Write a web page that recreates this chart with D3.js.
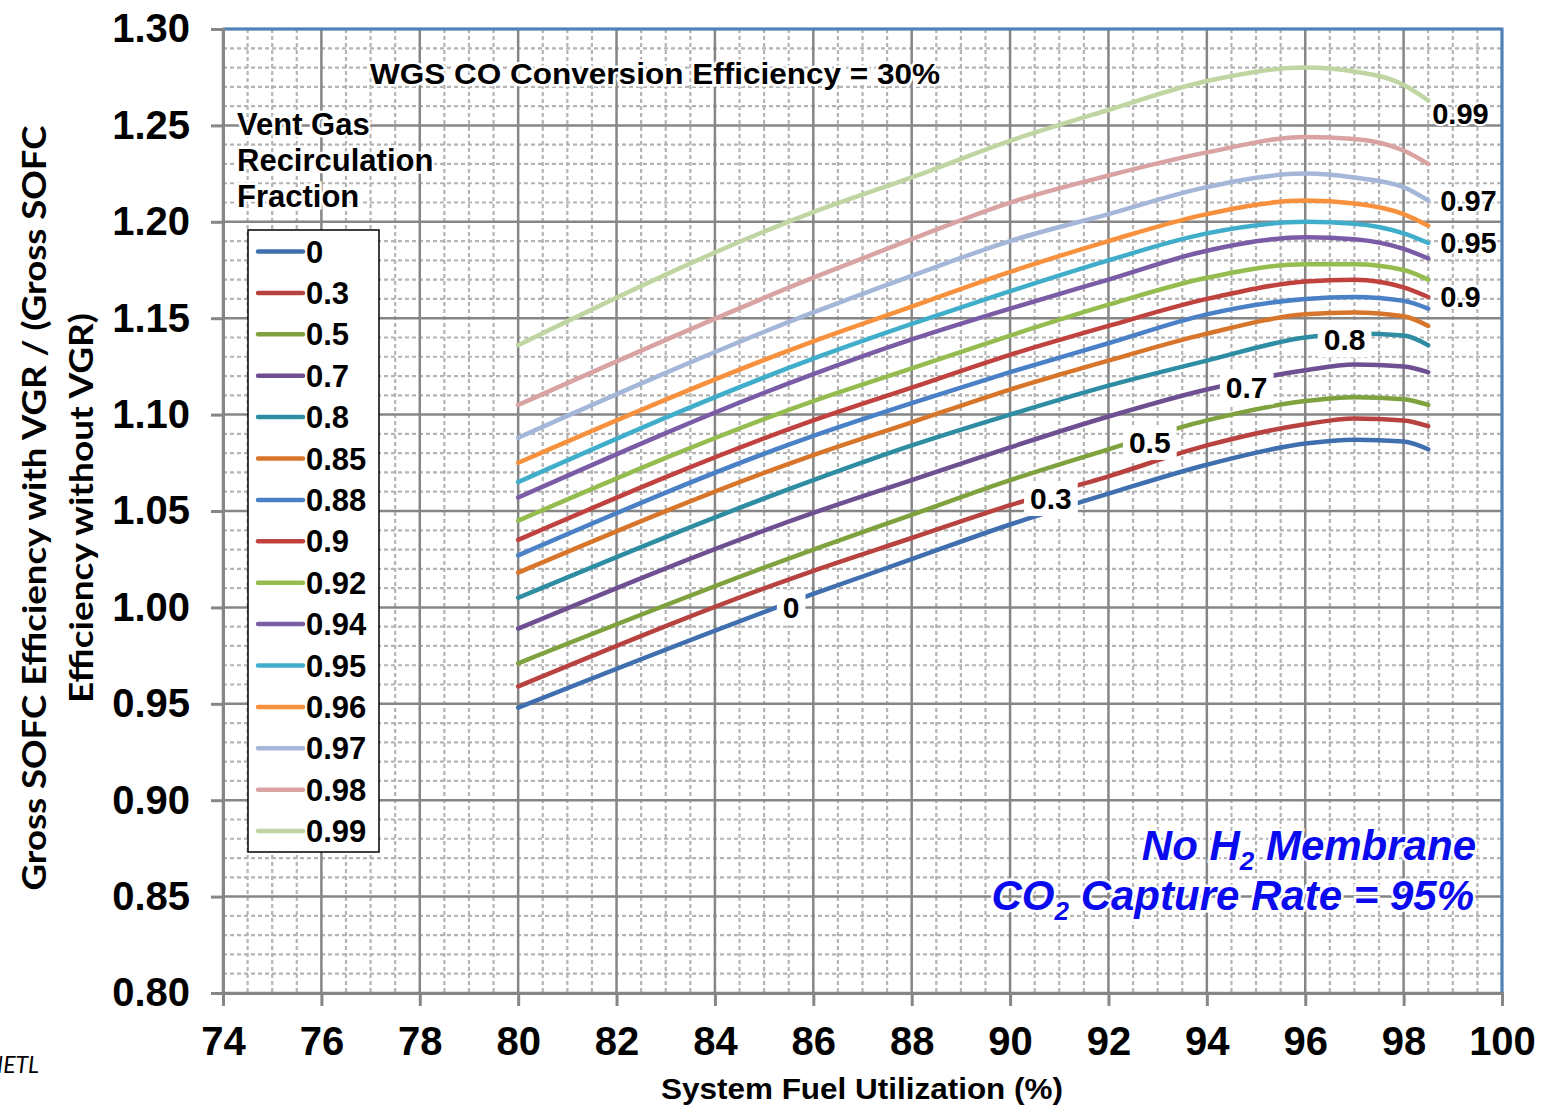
<!DOCTYPE html>
<html>
<head>
<meta charset="utf-8">
<script src="https://cdn.jsdelivr.net/npm/d3@7"></script>
<style>
body { margin: 0; background: #fff; }
svg text { font-family: "Liberation Sans", Arial, sans-serif; }
</style>
</head>
<body>
<script>
const W = 1541, H = 1108;
const m = {left: 223, top: 29, right: 39, bottom: 115};
const iw = W - m.left - m.right;
const ih = H - m.top - m.bottom;

// system fuel utilization (%) where the curves are read
const fuelUtil = [80, 86, 88, 90, 92, 94, 96, 97, 98, 98.5];

// vent gas recirculation fractions
const fractions = ['0', '0.3', '0.5', '0.7', '0.8', '0.85', '0.88', '0.9', '0.92', '0.94', '0.95', '0.96', '0.97', '0.98', '0.99'];
const colors = ['#3F6FAE', '#B7423F', '#7FA23F', '#6D4F92', '#2E8CA3', '#D7752A', '#4A80C6', '#C0423F',
    '#94BC4E', '#7A5BA6', '#40AECB', '#F7913D', '#A4B7D9', '#D9A3A3', '#C0D6A2'];

// efficiency ratio, one array per fraction
const r000 = [0.948, 1.007, 1.025, 1.043, 1.059, 1.074, 1.085, 1.087, 1.086, 1.082];
const r030 = [0.959, 1.019, 1.036, 1.053, 1.068, 1.084, 1.095, 1.098, 1.097, 1.094];
const r050 = [0.971, 1.030, 1.048, 1.066, 1.082, 1.097, 1.107, 1.109, 1.108, 1.105];
const r070 = [0.989, 1.049, 1.066, 1.083, 1.099, 1.113, 1.123, 1.126, 1.125, 1.122];
const r080 = [1.005, 1.066, 1.084, 1.100, 1.115, 1.128, 1.140, 1.142, 1.141, 1.136];
const r085 = [1.018, 1.079, 1.096, 1.113, 1.128, 1.142, 1.152, 1.153, 1.151, 1.146];
const r088 = [1.027, 1.089, 1.106, 1.122, 1.137, 1.152, 1.160, 1.161, 1.159, 1.155];
const r090 = [1.035, 1.097, 1.114, 1.131, 1.146, 1.160, 1.169, 1.170, 1.166, 1.161];
const r092 = [1.045, 1.107, 1.124, 1.141, 1.157, 1.171, 1.178, 1.178, 1.175, 1.170];
const r094 = [1.057, 1.121, 1.139, 1.155, 1.170, 1.185, 1.192, 1.191, 1.186, 1.181];
const r095 = [1.065, 1.129, 1.147, 1.164, 1.180, 1.194, 1.200, 1.199, 1.194, 1.189];
const r096 = [1.075, 1.138, 1.156, 1.174, 1.190, 1.204, 1.211, 1.2095, 1.204, 1.198];
const r097 = [1.088, 1.153, 1.172, 1.190, 1.204, 1.218, 1.225, 1.223, 1.218, 1.211];
const r098 = [1.105, 1.171, 1.191, 1.210, 1.224, 1.236, 1.244, 1.243, 1.237, 1.230];
const r099 = [1.136, 1.205, 1.223, 1.242, 1.258, 1.273, 1.280, 1.278, 1.271, 1.263];
const ratios = [r000, r030, r050, r070, r080, r085, r088, r090, r092, r094, r095, r096, r097, r098, r099];

// inline curve labels (fuel utilization where they sit) and end labels
const inlineLabels = [['0', 85.55], ['0.3', 90.83], ['0.5', 92.84], ['0.7', 94.81], ['0.8', 96.8]];
const endLabels = ['0.99', '0.97', '0.95', '0.9'];

const xTicks = d3.range(74, 101, 2);
const yTicks = d3.range(0, 11).map(i => 0.80 + i * 0.05);

const svg = d3.select("body")
    .append("svg")
    .attr("width", W)
    .attr("height", H);

const g = svg.append("g").attr("transform", `translate(${m.left},${m.top})`);

const x = d3.scaleLinear().domain([74, 100]).range([0, iw]);
const y = d3.scaleLinear().domain([0.80, 1.30]).range([ih, 0]);

// minor grid (dashed)
const xMinor = d3.range(74, 100.01, 0.5).filter(d => d % 2 !== 0);
const yMinor = d3.range(0, 51).map(i => 0.80 + i * 0.01).filter((d, i) => i % 5 !== 0);

g.append("g").selectAll("line")
    .data(yMinor).enter().append("line")
    .attr("x1", 0).attr("x2", iw)
    .attr("y1", d => y(d)).attr("y2", d => y(d))
    .attr("stroke", "#B4B4B4").attr("stroke-width", 2.2).attr("stroke-dasharray", "4,3");
g.append("g").selectAll("line")
    .data(xMinor).enter().append("line")
    .attr("x1", d => x(d)).attr("x2", d => x(d))
    .attr("y1", 0).attr("y2", ih)
    .attr("stroke", "#B4B4B4").attr("stroke-width", 2.2).attr("stroke-dasharray", "4,3");

// major grid
g.append("g").selectAll("line")
    .data(yTicks).enter().append("line")
    .attr("x1", 0).attr("x2", iw)
    .attr("y1", d => y(d)).attr("y2", d => y(d))
    .attr("stroke", "#868686").attr("stroke-width", 2.5);
g.append("g").selectAll("line")
    .data(xTicks).enter().append("line")
    .attr("x1", d => x(d)).attr("x2", d => x(d))
    .attr("y1", 0).attr("y2", ih)
    .attr("stroke", "#868686").attr("stroke-width", 2.5);

// blue frame top/right
g.append("path")
    .attr("d", `M0,0H${iw}V${ih}`)
    .attr("fill", "none").attr("stroke", "#4F81BD").attr("stroke-width", 3);

// axes
let axisX = d3.axisBottom(x).tickValues(xTicks).tickSize(13).tickPadding(21).tickFormat(d3.format("d"));
let gX = g.append("g").attr("transform", `translate(0,${ih})`).call(axisX);
let axisY = d3.axisLeft(y).tickValues(yTicks).tickSize(12).tickPadding(21).tickFormat(d3.format(".2f"));
let gY = g.append("g").call(axisY);
[gX, gY].forEach(a => {
    a.selectAll("path, line").attr("stroke", "#868686").attr("stroke-width", 3);
    a.selectAll("text").attr("fill", "#000")
        .style("font-family", "'Liberation Sans', Arial, sans-serif")
        .style("font-size", "40px").style("font-weight", "bold");
});

// curves
const line = d3.line()
    .x((d, i) => x(fuelUtil[i]))
    .y(d => y(d))
    .curve(d3.curveMonotoneX);

g.append("g").selectAll("path")
    .data(ratios).enter().append("path")
    .attr("d", d => line(d))
    .attr("fill", "none")
    .attr("stroke", (d, i) => colors[i])
    .attr("stroke-width", 4.5)
    .attr("stroke-linecap", "round");

// value of a series at fuel utilization u (for label placement)
function valueAt(vals, u) {
    for (let i = 1; i < fuelUtil.length; i++) {
        if (u <= fuelUtil[i]) {
            const t = (u - fuelUtil[i - 1]) / (fuelUtil[i] - fuelUtil[i - 1]);
            return vals[i - 1] + t * (vals[i] - vals[i - 1]);
        }
    }
    return vals[vals.length - 1];
}

// inline labels with white boxes
inlineLabels.forEach(([name, u]) => {
    const vals = ratios[fractions.indexOf(name)];
    const lg = g.append("g").attr("transform", `translate(${x(u)},${y(valueAt(vals, u)) + 5})`);
    const t = lg.append("text")
        .attr("text-anchor", "middle").attr("dy", "0.36em")
        .style("font-size", "30px").style("font-weight", "bold")
        .text(name);
    const bb = t.node().getBBox();
    lg.insert("rect", "text")
        .attr("x", bb.x - 6).attr("y", bb.y - 1)
        .attr("width", bb.width + 12).attr("height", bb.height + 2)
        .attr("fill", "#fff");
});

// end labels
endLabels.forEach(name => {
    const vals = ratios[fractions.indexOf(name)];
    const last = vals[vals.length - 1];
    g.append("text")
        .attr("x", x(fuelUtil[fuelUtil.length - 1]) + (name === '0.99' ? 4 : 12))
        .attr("y", y(last) + (name === '0.99' ? 13 : 0))
        .attr("dy", "0.36em")
        .style("font-size", "29px").style("font-weight", "bold")
        .attr("stroke", "#fff").attr("stroke-width", 4).style("paint-order", "stroke")
        .text(name);
});

// legend
const lgX = 248 - m.left, lgY = 230 - m.top;
const legend = g.append("g").attr("transform", `translate(${lgX},${lgY})`);
legend.append("rect")
    .attr("width", 131).attr("height", 622)
    .attr("fill", "#fff").attr("stroke", "#000").attr("stroke-width", 1.5);
const items = legend.selectAll("g.item")
    .data(fractions).enter().append("g")
    .attr("transform", (d, i) => `translate(0,${21.5 + i * 41.4})`);
items.append("line")
    .attr("x1", 10).attr("x2", 55)
    .attr("stroke", (d, i) => colors[i]).attr("stroke-width", 4.5).attr("stroke-linecap", "round");
items.append("text")
    .attr("x", 58).attr("dy", "0.36em")
    .style("font-size", "31px").style("font-weight", "bold")
    .text(d => d);

// annotations
const halo = sel => sel.attr("stroke", "#fff").attr("stroke-width", 5).style("paint-order", "stroke");

g.append("text")
    .attr("x", 370 - m.left).attr("y", 84 - m.top)
    .attr("textLength", 570).attr("lengthAdjust", "spacingAndGlyphs")
    .style("font-size", "30px").style("font-weight", "bold")
    .call(halo)
    .text("WGS CO Conversion Efficiency = 30%");

g.append("text")
    .attr("x", 237 - m.left).attr("y", 135 - m.top)
    .style("font-size", "31px").style("font-weight", "bold")
    .call(halo)
    .selectAll("tspan")
    .data(["Vent Gas", "Recirculation", "Fraction"]).enter().append("tspan")
    .attr("x", 237 - m.left)
    .attr("dy", (d, i) => i === 0 ? 0 : 36)
    .text(d => d);

const blue = g.append("g")
    .style("font-size", "42px").style("font-weight", "bold").style("font-style", "italic")
    .attr("fill", "#0A0AEE");
const t1 = blue.append("text").attr("x", 1476 - m.left).attr("y", 860 - m.top).attr("text-anchor", "end").call(halo);
t1.append("tspan").text("No H");
t1.append("tspan").attr("dy", 10).style("font-size", "26px").text("2");
t1.append("tspan").attr("dy", -10).text(" Membrane");
const t2 = blue.append("text").attr("x", 1474 - m.left).attr("y", 910 - m.top).attr("text-anchor", "end").call(halo);
t2.append("tspan").text("CO");
t2.append("tspan").attr("dy", 10).style("font-size", "26px").text("2");
t2.append("tspan").attr("dy", -10).text(" Capture Rate = 95%");

// axis titles
svg.append("text")
    .attr("x", 862).attr("y", 1099)
    .attr("text-anchor", "middle")
    .attr("textLength", 402).attr("lengthAdjust", "spacingAndGlyphs")
    .style("font-size", "30px").style("font-weight", "bold")
    .text("System Fuel Utilization (%)");

const yTitle = svg.append("g")
    .attr("transform", "translate(0,508) rotate(-90)")
    .style("font-size", "33px").style("font-weight", "bold");
yTitle.append("text")
    .attr("x", 0).attr("y", 46).attr("text-anchor", "middle")
    .attr("textLength", 765).attr("lengthAdjust", "spacingAndGlyphs")
    .style("font-family", "Lato, 'Open Sans', sans-serif")
    .text("Gross SOFC Efficiency with VGR / (Gross SOFC");
yTitle.append("text")
    .attr("x", 0).attr("y", 93).attr("text-anchor", "middle")
    .attr("textLength", 390).attr("lengthAdjust", "spacingAndGlyphs")
    .style("font-family", "Lato, 'Open Sans', sans-serif")
    .text("Efficiency without VGR)");

// source note
svg.append("text")
    .attr("x", 39).attr("y", 1073).attr("text-anchor", "end")
    .style("font-family", "Lato, 'Open Sans', sans-serif")
    .style("font-size", "23px").style("font-style", "italic")
    .text("NETL");
</script>
</body>
</html>
